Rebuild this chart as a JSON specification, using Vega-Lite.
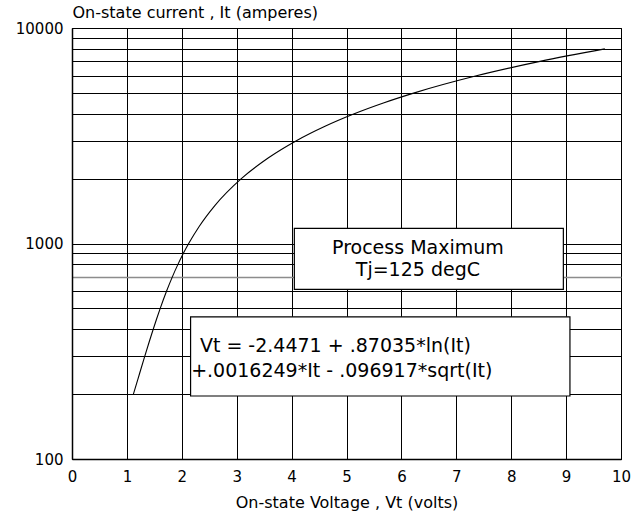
{
  "$schema": "https://vega.github.io/schema/vega-lite/v6.json",
  "autosize": "none",
  "width": 549,
  "height": 431,
  "padding": {"left": 72, "top": 28, "right": 13, "bottom": 58},
  "background": "white",
  "config": {
    "view": {"stroke": "black", "strokeWidth": 1},
    "font": "DejaVu Sans",
    "axis": {
      "labelFont": "DejaVu Sans",
      "titleFont": "DejaVu Sans",
      "labelColor": "black",
      "titleColor": "black",
      "titleFontWeight": "normal",
      "domainColor": "black",
      "domainWidth": 1.5,
      "gridOpacity": 1,
      "gridWidth": 1,
      "ticks": false,
      "labelFlush": false
    }
  },
  "datasets": {
    "curve": [
      {"It": 200, "Vt": 1.1185},
      {"It": 225, "Vt": 1.1786},
      {"It": 250, "Vt": 1.2323},
      {"It": 300, "Vt": 1.3260},
      {"It": 350, "Vt": 1.4068},
      {"It": 400, "Vt": 1.4793},
      {"It": 450, "Vt": 1.5453},
      {"It": 500, "Vt": 1.6072},
      {"It": 600, "Vt": 1.7214},
      {"It": 700, "Vt": 1.8278},
      {"It": 800, "Vt": 1.9295},
      {"It": 900, "Vt": 2.0282},
      {"It": 1000, "Vt": 2.1252},
      {"It": 1200, "Vt": 2.3163},
      {"It": 1500, "Vt": 2.6017},
      {"It": 2000, "Vt": 3.0839},
      {"It": 2500, "Vt": 3.5790},
      {"It": 3000, "Vt": 4.0875},
      {"It": 3500, "Vt": 4.6089},
      {"It": 4000, "Vt": 5.1416},
      {"It": 4500, "Vt": 5.6848},
      {"It": 5000, "Vt": 6.2372},
      {"It": 6000, "Vt": 7.3667},
      {"It": 7000, "Vt": 8.5242},
      {"It": 8000, "Vt": 9.7056}
    ],
    "boxes": [
      {"x1": 4.05, "x2": 8.95, "y1": 613, "y2": 1176},
      {"x1": 2.16, "x2": 9.07, "y1": 196, "y2": 457}
    ],
    "centered": [
      {"x": 6.3, "y": 953, "label": "Process Maximum"},
      {"x": 6.3, "y": 753, "label": "Tj=125 degC"}
    ],
    "eq": [
      {"x": 2.33, "y": 336, "label": "Vt = -2.4471 + .87035*ln(It)"},
      {"x": 2.17, "y": 256, "label": "+.0016249*It - .096917*sqrt(It)"}
    ]
  },
  "layer": [
    {
      "data": {"name": "curve"},
      "mark": {"type": "line", "color": "black", "strokeWidth": 1.1, "interpolate": "monotone"},
      "encoding": {
        "x": {
          "field": "Vt", "type": "quantitative",
          "scale": {"domain": [0, 10], "nice": false, "zero": false},
          "axis": {
            "values": [0, 1, 2, 3, 4, 5, 6, 7, 8, 9, 10],
            "grid": true,
            "gridColor": "black",
            "labelFontSize": 15,
            "labelPadding": 10,
            "title": "On-state Voltage , Vt (volts)",
            "titleFontSize": 16,
            "titlePadding": 10
          }
        },
        "y": {
          "field": "It", "type": "quantitative",
          "scale": {"type": "log", "domain": [100, 10000], "nice": false},
          "axis": {
            "values": [100, 200, 300, 400, 500, 600, 700, 800, 900, 1000, 2000, 3000, 4000, 5000, 6000, 7000, 8000, 9000, 10000],
            "grid": true,
            "gridColor": {"condition": {"test": "datum.value == 700", "value": "#8c8c8c"}, "value": "black"},
            "gridWidth": {"condition": {"test": "datum.value == 700", "value": 1.5}, "value": 1},
            "format": "d",
            "labelExpr": "datum.value == 100 || datum.value == 1000 || datum.value == 10000 ? datum.label : ''",
            "labelFontSize": 15,
            "labelPadding": 9,
            "labelBaseline": "middle",
            "title": "On-state current , It (amperes)",
            "titleFontSize": 16,
            "titleAngle": 0,
            "titleAlign": "left",
            "titleBaseline": "middle",
            "titleX": 0,
            "titleY": -16
          }
        }
      }
    },
    {
      "data": {"name": "boxes"},
      "mark": {"type": "rect", "fill": "white", "stroke": "black", "strokeWidth": 1.2},
      "encoding": {
        "x": {"field": "x1", "type": "quantitative"},
        "x2": {"field": "x2"},
        "y": {"field": "y1", "type": "quantitative"},
        "y2": {"field": "y2"}
      }
    },
    {
      "data": {"name": "centered"},
      "mark": {"type": "text", "align": "center", "baseline": "middle", "fontSize": 19, "font": "DejaVu Sans", "color": "black"},
      "encoding": {
        "x": {"field": "x", "type": "quantitative"},
        "y": {"field": "y", "type": "quantitative"},
        "text": {"field": "label"}
      }
    },
    {
      "data": {"name": "eq"},
      "mark": {"type": "text", "align": "left", "baseline": "middle", "fontSize": 19, "font": "DejaVu Sans", "color": "black"},
      "encoding": {
        "x": {"field": "x", "type": "quantitative"},
        "y": {"field": "y", "type": "quantitative"},
        "text": {"field": "label"}
      }
    }
  ]
}
